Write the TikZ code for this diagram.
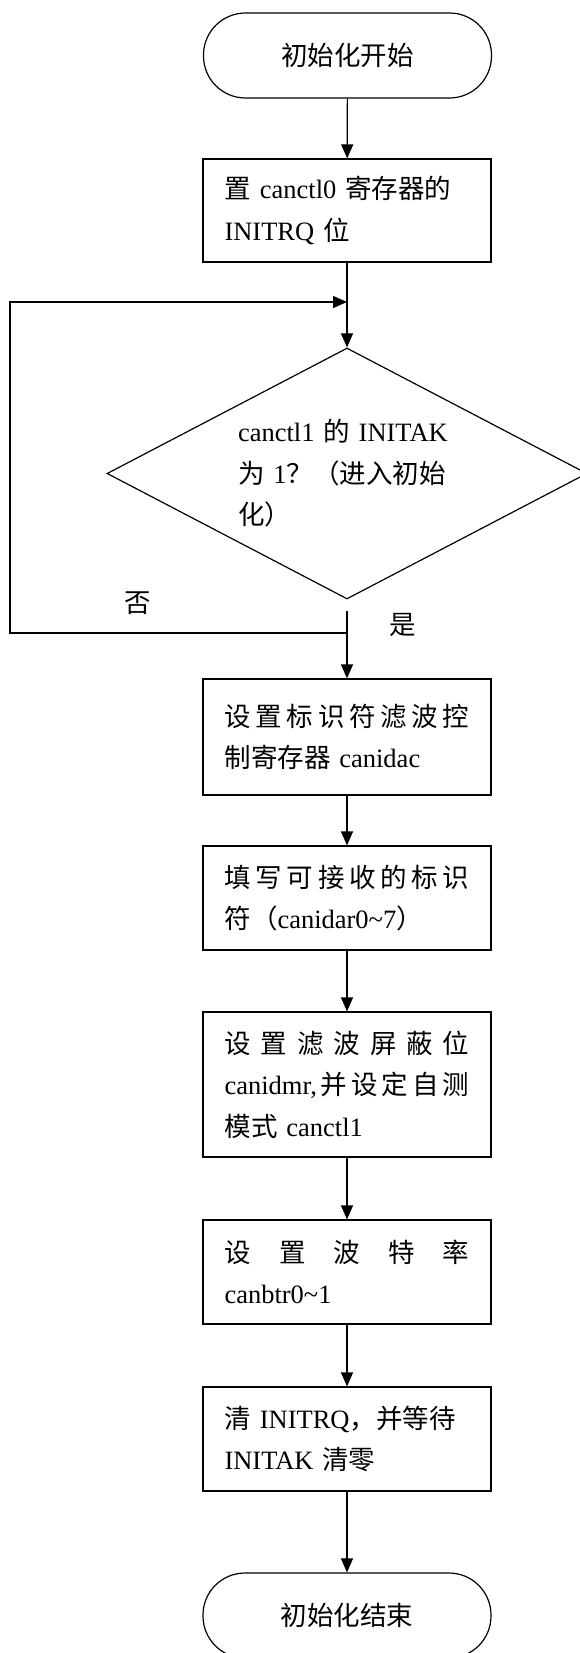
\documentclass[tikz,border=0pt]{standalone}
\usepackage{fontspec}
\setmainfont{Liberation Serif}
\newfontfamily\cjk{Noto Sans CJK SC}
\usetikzlibrary{shapes.geometric,arrows.meta}
\newcommand{\zh}[1]{{\cjk #1}}
\newcommand{\jl}[2][245pt]{\makebox[#1][s]{#2}}

\begin{document}
\begin{tikzpicture}[x=1pt, y=-1pt, line width=1.2pt,
  every node/.style={font=\fontsize{26.5}{41.5}\selectfont},
  procbox/.style={draw, rectangle, minimum width=288pt, text width=245pt, align=left, inner sep=0pt},
  termbox/.style={draw, rectangle, rounded corners=42pt, minimum width=288pt, minimum height=85pt},
  decbox/.style={draw, diamond, aspect=1.9, minimum width=480pt, minimum height=251pt, inner sep=0pt, text width=218pt, align=left},
  flowarrow/.style={-{Triangle[length=14pt,width=12pt]}}]
\useasboundingbox (0,0) rectangle (580,1653);
\node[termbox] (F1N0) at (347.5,55.5) {\zh{初始化开始}};
\node[procbox, minimum height=103pt] (F1N1) at (347,210.5) {\jl{\zh{置} canctl0 \zh{寄存器的}}\\ INITRQ \zh{位}};
\node[decbox] (F1N2) at (347,473.5) {\jl[218pt]{canctl1 \zh{的} INITAK}\\ \jl[218pt]{\zh{为} 1\zh{？（进入初始}}\\ \zh{化）}};
\node[procbox, minimum height=116pt] (F1N3) at (347,737) {\jl{\zh{设\hfill 置\hfill 标\hfill 识\hfill 符\hfill 滤\hfill 波\hfill 控}}\\ \zh{制寄存器} canidac};
\node[procbox, minimum height=104pt] (F1N4) at (347,898) {\jl{\zh{填\hfill 写\hfill 可\hfill 接\hfill 收\hfill 的\hfill 标\hfill 识}}\\ \zh{符（}canidar0\textasciitilde 7\zh{）}};
\node[procbox, minimum height=145pt] (F1N5) at (347,1084.5) {\jl{\zh{设\hfill 置\hfill 滤\hfill 波\hfill 屏\hfill 蔽\hfill 位}}\\ \jl{canidmr,\hfill\zh{并\hfill 设\hfill 定\hfill 自\hfill 测}}\\ \zh{模式} canctl1};
\node[procbox, minimum height=104pt] (F1N6) at (347,1272) {\jl{\zh{设\hfill 置\hfill 波\hfill 特\hfill 率}}\\ canbtr0\textasciitilde 1};
\node[procbox, minimum height=104pt] (F1N7) at (347,1439) {\jl{\zh{清} INITRQ\zh{，并等待}}\\ INITAK \zh{清零}};
\node[termbox] (F1N8) at (347,1615.5) {\zh{初始化结束}};
\node (F1L0) at (138,603) {\zh{否}};
\node (F1L1) at (403,625) {\zh{是}};
\coordinate (F1J1) at (347,633);
\coordinate (F1J2) at (10,633);
\coordinate (F1J3) at (10,302);
\coordinate (F1J4) at (347,302);
\draw[flowarrow] (F1N0) -- (F1N1);
\draw[flowarrow] (F1N1) -- (F1N2);
\draw[flowarrow, shorten <=11pt] (F1N2) -- (F1N3);
\draw[flowarrow] (F1J1) -- (F1J2) -- (F1J3) -- (F1J4);
\draw[flowarrow] (F1N3) -- (F1N4);
\draw[flowarrow] (F1N4) -- (F1N5);
\draw[flowarrow] (F1N5) -- (F1N6);
\draw[flowarrow] (F1N6) -- (F1N7);
\draw[flowarrow] (F1N7) -- (F1N8);
\end{tikzpicture}
\end{document}
